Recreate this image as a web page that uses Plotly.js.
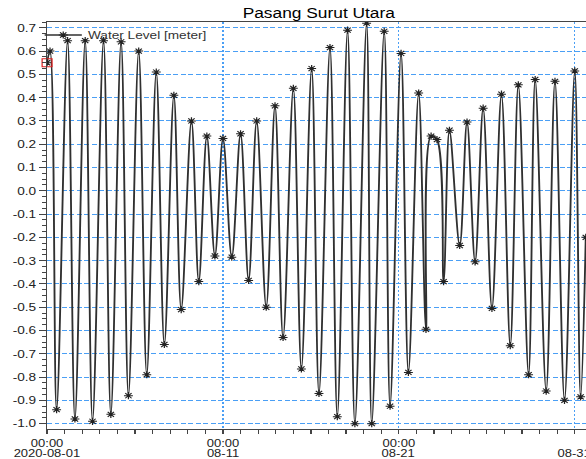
<!DOCTYPE html>
<html><head><meta charset="utf-8">
<script src="https://cdn.plot.ly/plotly-3.0.1.min.js"></script>
<style>
html,body{margin:0;padding:0;background:#fff;overflow:hidden}
#wrap{width:586px;height:459px;overflow:hidden;position:relative}
#chart{width:473px;height:459px;transform:scale(1.2389,1);transform-origin:0 0}
</style></head><body>
<div id="wrap"><div id="chart"></div></div>
<script>
// Water level turning points (time, metres)
const times = [
"2020-08-01 00:00","2020-08-01 04:00","2020-08-01 13:00","2020-08-02 04:00","2020-08-02 14:00",
"2020-08-03 04:00","2020-08-03 14:00","2020-08-04 05:00","2020-08-04 15:00","2020-08-05 05:00",
"2020-08-05 15:00","2020-08-06 05:00","2020-08-06 16:00","2020-08-07 05:00","2020-08-07 16:00",
"2020-08-08 05:00","2020-08-08 15:00","2020-08-09 05:00","2020-08-09 15:00","2020-08-10 02:00",
"2020-08-10 13:00","2020-08-11 00:00","2020-08-11 12:00","2020-08-12 00:00","2020-08-12 11:00",
"2020-08-12 22:00","2020-08-13 11:00","2020-08-13 23:00","2020-08-14 10:00","2020-08-15 00:00",
"2020-08-15 11:00","2020-08-16 01:00","2020-08-16 11:00","2020-08-17 02:00","2020-08-17 12:00",
"2020-08-18 02:00","2020-08-18 12:00","2020-08-19 04:00","2020-08-19 11:00","2020-08-20 04:00",
"2020-08-20 12:00","2020-08-21 03:00","2020-08-21 13:00","2020-08-22 03:00","2020-08-22 13:00",
"2020-08-22 20:00","2020-08-23 04:00","2020-08-23 13:00","2020-08-23 21:00","2020-08-24 11:00",
"2020-08-24 21:00","2020-08-25 08:00","2020-08-25 19:00","2020-08-26 07:00","2020-08-26 20:00",
"2020-08-27 08:00","2020-08-27 19:00","2020-08-28 09:00","2020-08-28 18:00","2020-08-29 09:00",
"2020-08-29 21:00","2020-08-30 10:00","2020-08-31 00:00","2020-08-31 08:00","2020-08-31 15:00"
];
const levels = [
0.55,0.60,-0.94,0.645,-0.98,
0.645,-0.99,0.645,-0.96,0.64,
-0.88,0.60,-0.79,0.51,-0.66,
0.41,-0.51,0.30,-0.39,0.235,
-0.28,0.225,-0.285,0.245,-0.385,
0.30,-0.50,0.365,-0.63,0.44,
-0.765,0.525,-0.87,0.615,-0.97,
0.69,-1.0,0.72,-1.0,0.685,
-0.925,0.59,-0.78,0.42,-0.595,
0.235,0.22,-0.39,0.26,-0.235,
0.295,-0.305,0.355,-0.505,0.415,
-0.665,0.455,-0.79,0.478,-0.86,
0.47,-0.90,0.515,-0.885,-0.2
];
const markedTime = ["2020-08-01 00:00"];
const markedLevel = [0.55];
const xTickVals = ["2020-08-01 00:00","2020-08-11 00:00","2020-08-21 00:00","2020-08-31 00:00"];
const xTickText = ["00:00","00:00","00:00","00:00"];
const xDateText = ["2020-08-01","08-11","08-21","08-31"];
const yTickVals = [0.7,0.6,0.5,0.4,0.3,0.2,0.1,0.0,-0.1,-0.2,-0.3,-0.4,-0.5,-0.6,-0.7,-0.8,-0.9,-1.0];
const yTickText = ["0.7","0.6","0.5","0.4","0.3","0.2","0.1","0.0","-0.1","-0.2","-0.3","-0.4","-0.5","-0.6","-0.7","-0.8","-0.9","-1.0"];
const seriesName = "Water Level [meter]";
const chartTitle = "Pasang Surut Utara";

const FONT = "Liberation Sans, Arial, sans-serif";
const GRID = "#4a9ff5";

const traces = [
  {
    x: times, y: levels, type: "scatter", mode: "lines+markers", name: seriesName,
    line: {color: "#303030", width: 1.5, shape: "spline", smoothing: 1},
    marker: {symbol: "asterisk-open", size: 6, color: "#222", line: {color: "#1a1a1a", width: 1}}
  },
  {
    x: markedTime, y: markedLevel, type: "scatter", mode: "markers", showlegend: false,
    cliponaxis: false, hoverinfo: "skip",
    marker: {symbol: "square-open", size: 8, color: "#e02020", line: {color: "#e02020", width: 1}}
  }
];

const dateAnnotations = xTickVals.map((v, i) => ({
  x: v, xref: "x", y: 0, yref: "paper", yanchor: "top", xanchor: "center",
  yshift: -17, showarrow: false, borderpad: 0, text: xDateText[i],
  font: {family: FONT, size: 10.5, color: "#222"}
}));

const layout = {
  width: 473, height: 459,
  margin: {l: 38, r: 0, t: 22, b: 30, pad: 0},
  paper_bgcolor: "#ffffff", plot_bgcolor: "#ffffff",
  font: {family: FONT, size: 11, color: "#222"},
  title: {text: chartTitle, font: {family: FONT, size: 14, color: "#000"},
          xref: "container", x: 0.544, xanchor: "center", yref: "container", y: 0.972, yanchor: "middle"},
  showlegend: true,
  legend: {x: -0.016, xanchor: "left", y: 0.968, yanchor: "middle", bgcolor: "rgba(0,0,0,0)",
           font: {family: FONT, size: 11, color: "#333"}, borderwidth: 0},
  annotations: dateAnnotations,
  xaxis: {
    type: "date", range: ["2020-08-01 00:00", "2020-08-31 15:20"],
    tickmode: "array", tickvals: xTickVals, ticktext: xTickText,
    ticks: "outside", ticklen: 4, tickcolor: "#444", tickwidth: 1,
    showline: true, linecolor: "#444", linewidth: 1, mirror: true,
    showgrid: true, gridcolor: GRID, gridwidth: 1, griddash: "2px,2px",
    zeroline: false,
    tickfont: {family: FONT, size: 10.5, color: "#222"},
    minor: {tickmode: "linear", tick0: "2020-08-01", dtick: 86400000, ticks: "outside", ticklen: 4, tickcolor: "#444", showgrid: false}
  },
  yaxis: {
    range: [-1.023, 0.725],
    tickmode: "array", tickvals: yTickVals, ticktext: yTickText,
    ticks: "outside", ticklen: 5.6, tickcolor: "#444", tickwidth: 1,
    showline: true, linecolor: "#444", linewidth: 1, mirror: false,
    showgrid: true, gridcolor: GRID, gridwidth: 1, griddash: "4px,2px",
    zeroline: false,
    tickfont: {family: FONT, size: 11, color: "#222"},
    minor: {tickmode: "linear", tick0: 0, dtick: 0.025, ticks: "outside", ticklen: 3.2, tickcolor: "#444", showgrid: false}
  }
};

Plotly.newPlot("chart", traces, layout, {staticPlot: true, displayModeBar: false});
</script>
</body></html>
